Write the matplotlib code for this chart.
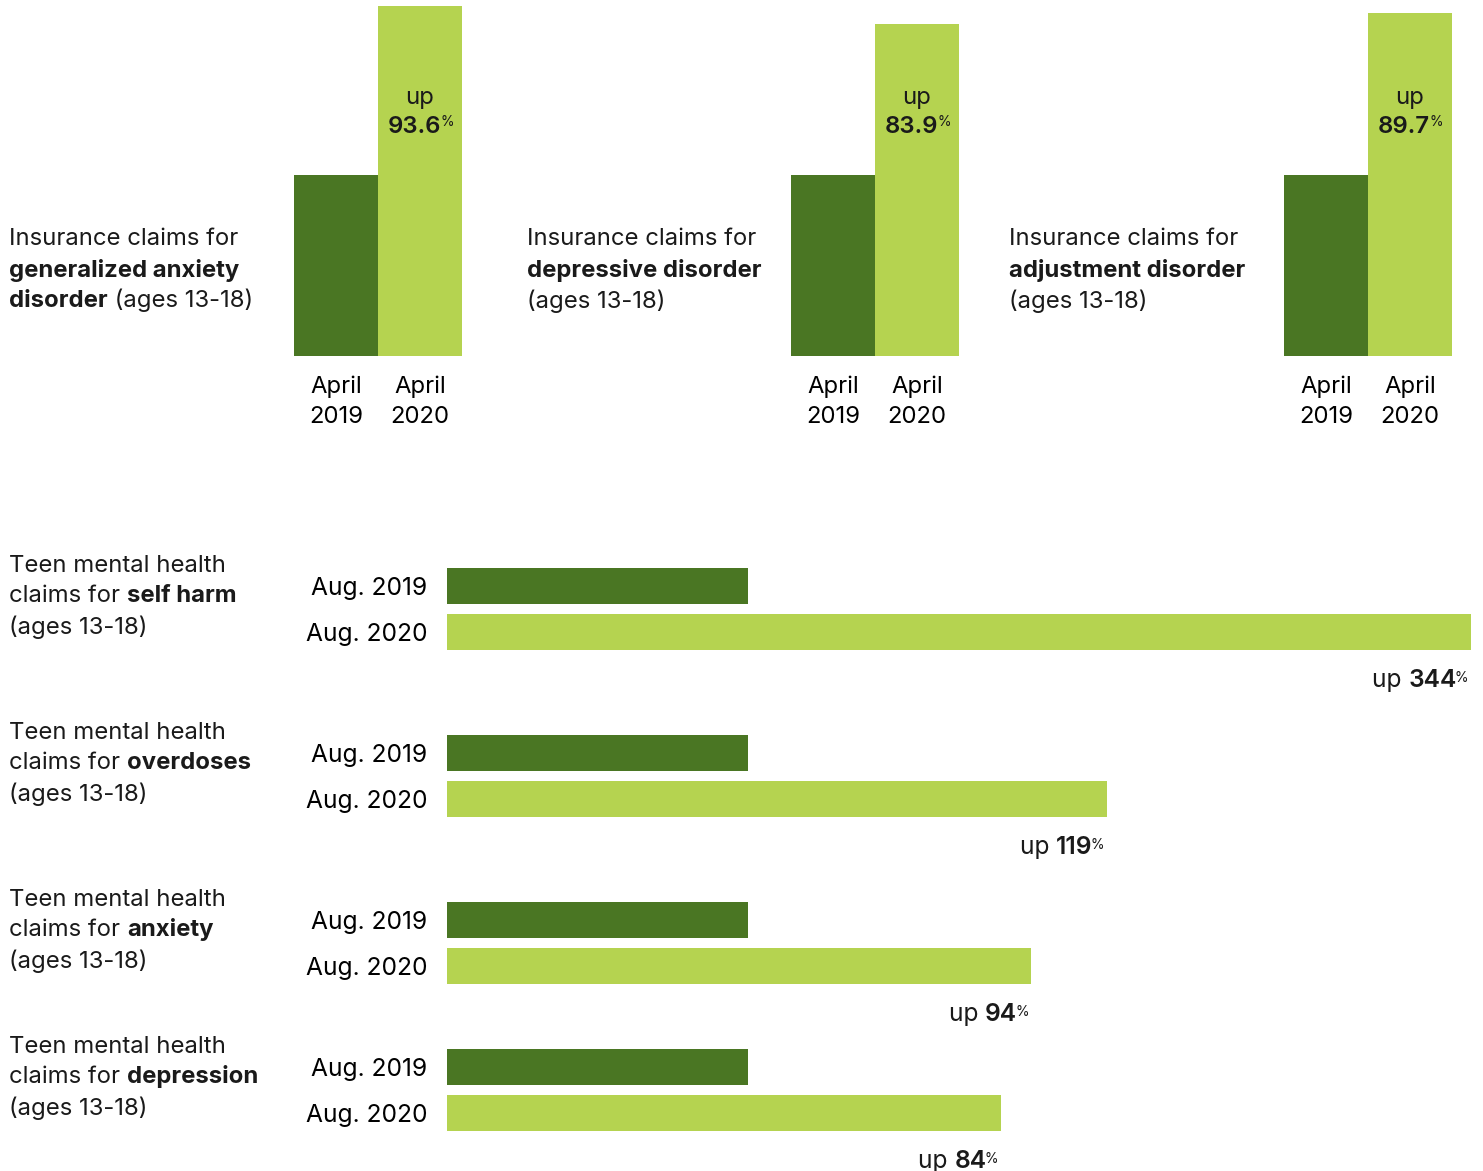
import matplotlib
matplotlib.use("Agg")
import matplotlib.pyplot as plt

plt.rcParams["font.family"] = ["Inter", "DejaVu Sans"]
plt.rcParams["text.color"] = "#1a1a1a"

DARK = "#4a7623"
LIGHT = "#b5d350"

# top: April 2019 vs April 2020 (2019 = 100)
top_topics = ["generalized anxiety\ndisorder", "depressive disorder", "adjustment disorder"]
top_changes = [93.6, 83.9, 89.7]
top_ticks = ["April\n2019", "April\n2020"]

# bottom: Aug. 2019 vs Aug. 2020 (2019 = 100)
bottom_topics = ["self harm", "overdoses", "anxiety", "depression"]
bottom_changes = [344, 119, 94, 84]
bottom_ticks = ["Aug. 2019", "Aug. 2020"]

W, H = 1483, 1171
fig = plt.figure(figsize=(W / 100, H / 100), dpi=100)

FS = 17.2


def px_axes(x0, y0, x1, y1):
    # pixel box (top-left origin) -> figure axes
    return fig.add_axes([x0 / W, 1 - y1 / H, (x1 - x0) / W, (y1 - y0) / H])


def bare(ax):
    for s in ax.spines.values():
        s.set_visible(False)
    ax.tick_params(length=0)


# ---- top vertical bars
top_boxes = [(294, 462), (791, 959), (1284, 1452)]
text_x = [9, 527, 1009]
for i, (x0, x1) in enumerate(top_boxes):
    ax = px_axes(x0, 0, x1, 356)
    vals = [100, 100 + top_changes[i]]
    ax.bar([0, 1], vals, width=1.0, color=[DARK, LIGHT])
    ax.set_xlim(-0.5, 1.5)
    ax.set_ylim(0, 197)
    ax.set_yticks([])
    ax.set_xticks([0, 1])
    ax.set_xticklabels(top_ticks, fontsize=FS, linespacing=1.45)
    ax.tick_params(axis="x", pad=14)
    bare(ax)

    trans = ax.get_xaxis_transform()
    ax.text(1, 1 - 98 / 356, "up", transform=trans, ha="center", va="center", fontsize=FS)
    n = ax.text(0.93, 1 - 127 / 356, f"{top_changes[i]}", transform=trans, ha="center",
                va="center", fontsize=FS, fontweight="semibold")
    ax.annotate("%", (1, 1), xycoords=n, xytext=(-0.5, 0.5), textcoords="offset points",
                ha="left", va="top", fontsize=10)

    # description text
    tx = text_x[i] / W
    fig.text(tx, 1 - 239 / H, "Insurance claims for", fontsize=FS, va="center")
    lines = top_topics[i].split("\n")
    fig.text(tx, 1 - 270 / H, lines[0], fontsize=FS, fontweight="bold", va="center")
    if len(lines) == 2:
        b = fig.text(tx, 1 - 301 / H, lines[1], fontsize=FS, fontweight="bold", va="center")
        ax.annotate(" (ages 13-18)", (1, 0), xycoords=b, ha="left", va="bottom", fontsize=FS)
    else:
        fig.text(tx, 1 - 301 / H, "(ages 13-18)", fontsize=FS, va="center")

# ---- bottom horizontal bars
row_top = [563, 730, 897, 1044]
XMAX = 340
for i, y0 in enumerate(row_top):
    ax = px_axes(447, y0, 1471, y0 + 92)
    vals = [100, 100 + bottom_changes[i]]
    ax.barh([0, 1], vals, height=36 / 46, color=[DARK, LIGHT])
    ax.set_xlim(0, XMAX)
    ax.set_ylim(1.5, -0.5)
    ax.set_xticks([])
    ax.set_yticks([0, 1])
    ax.set_yticklabels(bottom_ticks, fontsize=FS + 0.5)
    for lab in ax.get_yticklabels():
        lab.set_va("center_baseline")
    ax.tick_params(axis="y", pad=14)
    bare(ax)

    # "up 344%" right-aligned under the 2020 bar
    p = ax.annotate("%", (min(vals[1], XMAX), 1.39), xytext=(-2, -15),
                    textcoords="offset points", ha="right", va="top", fontsize=10,
                    annotation_clip=False)
    n = ax.annotate(f"{bottom_changes[i]}", (0, 1), xycoords=p, xytext=(1.5, 1.5),
                    textcoords="offset points", ha="right", va="top", fontsize=FS + 0.5,
                    fontweight="semibold")
    ax.annotate("up ", (0, 0), xycoords=n, ha="right", va="bottom", fontsize=FS + 0.5)

    ty = y0 + 3
    fig.text(9 / W, 1 - ty / H, "Teen mental health", fontsize=FS, va="center")
    c = fig.text(9 / W, 1 - (ty + 30) / H, "claims for ", fontsize=FS, va="center")
    ax.annotate(bottom_topics[i], (1, 0), xycoords=c, ha="left", va="bottom",
                fontsize=FS, fontweight="bold")
    fig.text(9 / W, 1 - (ty + 61) / H, "(ages 13-18)", fontsize=FS, va="center")

fig.savefig("out.png", dpi=100)
